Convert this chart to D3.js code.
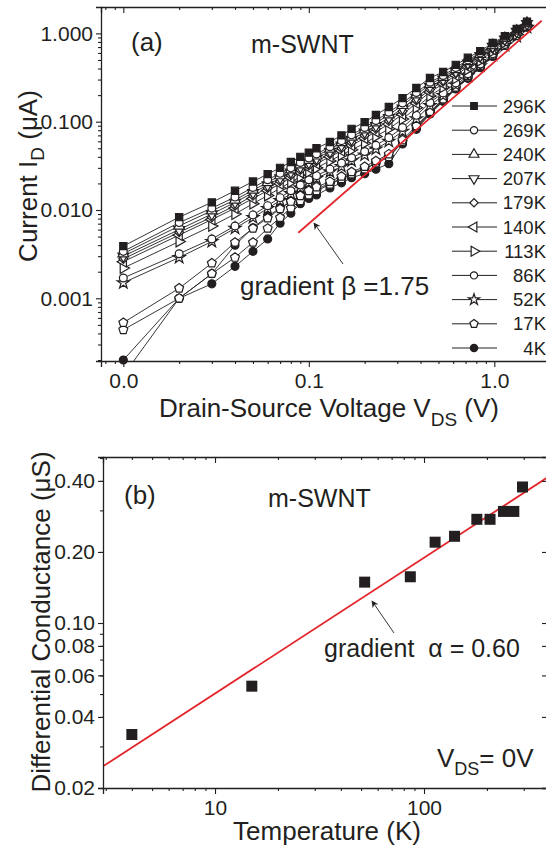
<!DOCTYPE html>
<html>
<head>
<meta charset="utf-8">
<script src="https://cdn.jsdelivr.net/npm/d3@7"></script>
<style>
body { margin: 0; background: #fff; }
svg { display: block; font-family: "Liberation Sans", Arial, sans-serif; }
</style>
</head>
<body>
<script>
const ink = "#231f20";
const red = "#e3262b";

// ---- panel (a): I-V curves ----
const voltage = [0.01, 0.02, 0.03, 0.04, 0.05, 0.06, 0.07, 0.08, 0.09, 0.10, 0.11, 0.13, 0.15, 0.17, 0.20,
                 0.23, 0.27, 0.32, 0.38, 0.45, 0.53, 0.62, 0.72, 0.84, 0.98, 1.14, 1.32, 1.50];

const I_296K = [0.0039, 0.0083, 0.0122, 0.0165, 0.021, 0.0255, 0.030, 0.035, 0.040, 0.0446, 0.050, 0.059, 0.070, 0.083, 0.099, 0.119, 0.147, 0.185, 0.241, 0.313, 0.366, 0.44, 0.53, 0.63, 0.78, 0.93, 1.12, 1.36];
const I_269K = [0.0034, 0.0072, 0.0105, 0.014, 0.018, 0.022, 0.026, 0.030, 0.0345, 0.0388, 0.043, 0.052, 0.061, 0.071, 0.086, 0.103, 0.128, 0.163, 0.214, 0.280, 0.334, 0.41, 0.50, 0.60, 0.75, 0.90, 1.09, 1.33];
const I_240K = [0.0032, 0.0066, 0.0098, 0.013, 0.0168, 0.0205, 0.0245, 0.0285, 0.0326, 0.0366, 0.041, 0.049, 0.058, 0.067, 0.081, 0.097, 0.120, 0.153, 0.202, 0.265, 0.318, 0.39, 0.48, 0.58, 0.73, 0.88, 1.07, 1.31];
const I_207K = [0.0030, 0.0060, 0.0090, 0.0122, 0.0157, 0.0192, 0.023, 0.0268, 0.0306, 0.0345, 0.0385, 0.046, 0.054, 0.063, 0.076, 0.090, 0.111, 0.142, 0.188, 0.249, 0.302, 0.37, 0.46, 0.56, 0.71, 0.86, 1.05, 1.29];
const I_179K = [0.0028, 0.0056, 0.0083, 0.0112, 0.0145, 0.0178, 0.0212, 0.0248, 0.0284, 0.032, 0.0357, 0.043, 0.050, 0.058, 0.070, 0.083, 0.102, 0.131, 0.174, 0.232, 0.285, 0.355, 0.44, 0.54, 0.68, 0.84, 1.03, 1.27];
const I_140K = [0.0026, 0.0052, 0.0078, 0.0105, 0.0135, 0.0166, 0.0198, 0.0232, 0.0266, 0.030, 0.0335, 0.040, 0.047, 0.054, 0.065, 0.077, 0.094, 0.121, 0.162, 0.217, 0.268, 0.335, 0.42, 0.52, 0.66, 0.82, 1.01, 1.25];
const I_113K = [0.0022, 0.0044, 0.0066, 0.0090, 0.0118, 0.0146, 0.0176, 0.0207, 0.0238, 0.027, 0.030, 0.036, 0.042, 0.048, 0.057, 0.068, 0.083, 0.107, 0.144, 0.196, 0.246, 0.31, 0.39, 0.49, 0.63, 0.79, 0.98, 1.22];
const I_86K  = [0.0017, 0.0032, 0.0047, 0.0066, 0.0088, 0.0112, 0.0138, 0.0165, 0.0192, 0.022, 0.0245, 0.029, 0.034, 0.039, 0.046, 0.054, 0.066, 0.086, 0.118, 0.165, 0.212, 0.275, 0.35, 0.45, 0.59, 0.75, 0.94, 1.19];
const I_52K  = [0.0015, 0.0029, 0.0044, 0.0062, 0.0082, 0.0104, 0.0128, 0.0153, 0.0178, 0.0204, 0.0228, 0.027, 0.031, 0.036, 0.042, 0.049, 0.060, 0.078, 0.108, 0.152, 0.198, 0.26, 0.33, 0.43, 0.57, 0.73, 0.92, 1.17];
const I_17K  = [0.00053, 0.0013, 0.0025, 0.0043, 0.0062, 0.0081, 0.0103, 0.0125, 0.0145, 0.0165, 0.0182, 0.021, 0.024, 0.027, 0.031, 0.036, 0.043, 0.062, 0.090, 0.13, 0.18, 0.245, 0.32, 0.42, 0.56, 0.74, 0.96, 1.20];
const I_4K   = [0.0002, 0.0010, 0.0019, 0.0040, 0.0063, 0.0085, 0.0105, 0.0125, 0.0142, 0.0158, 0.0172, 0.020, 0.0228, 0.026, 0.0295, 0.0335, 0.040, 0.058, 0.085, 0.124, 0.172, 0.238, 0.312, 0.412, 0.552, 0.732, 0.952, 1.18];
// second sweeps at 17K and 4K (no own legend entry)
const I_17K_b = [0.00044, 0.0010, 0.0019, 0.0029, 0.0043, 0.0062, 0.0082, 0.0105, 0.0127, 0.0148, 0.0165, 0.0195, 0.0225, 0.0255, 0.029, 0.034, 0.040, 0.059, 0.087, 0.126, 0.176, 0.24, 0.315, 0.415, 0.555, 0.735, 0.955, 1.19];
const I_4K_b  = [0.000134, 0.0010, 0.00146, 0.0023, 0.0034, 0.0047, 0.0071, 0.0092, 0.0118, 0.0135, 0.0148, 0.0178, 0.0203, 0.0232, 0.0258, 0.029, 0.0335, 0.056, 0.082, 0.122, 0.17, 0.235, 0.31, 0.41, 0.55, 0.73, 0.95, 1.18];

const legendLabels = ["296K", "269K", "240K", "207K", "179K", "140K", "113K", "86K", "52K", "17K", "4K"];
const legendMarkers = ["squareFilled", "circle", "triUp", "triDown", "diamond", "triLeft", "triRight", "circle", "star", "pentagon", "circleFilled"];

const fitA_V = [0.0878, 1.80];
const fitA_I = [0.00553, 1.39];

const xTicksA = [0.01, 0.1, 1];
const xTickLabelsA = ["0.0", "0.1", "1.0"];
const yTicksA = [0.001, 0.01, 0.1, 1];
const yTickLabelsA = ["0.001", "0.010", "0.100", "1.000"];

// ---- panel (b): zero-bias conductance vs T ----
const temperature = [4, 15, 52, 86, 113, 140, 179, 207, 240, 269, 296];
const conductance = [0.0337, 0.054, 0.149, 0.157, 0.220, 0.233, 0.275, 0.275, 0.297, 0.297, 0.377];
const fitB_T = [2.911, 392];
const fitB_G = [0.0247, 0.415];

const xTicksB = [10, 100];
const xTickLabelsB = ["10", "100"];
const yTicksB = [0.02, 0.04, 0.06, 0.08, 0.1, 0.2, 0.4];
const yTickLabelsB = ["0.02", "0.04", "0.06", "0.08", "0.10", "0.20", "0.40"];

// ---------------------------------------------------------------
const svg = d3.select("body").append("svg")
    .attr("width", 546)
    .attr("height", 852);

function minorTicks(domain) {
    let out = [];
    let lo = Math.floor(Math.log10(domain[0])), hi = Math.ceil(Math.log10(domain[1]));
    for (let e = lo; e <= hi; e++) {
        for (let k = 2; k <= 9; k++) {
            let v = k * Math.pow(10, e);
            if (v >= domain[0] && v <= domain[1]) out.push(v);
        }
    }
    return out;
}

const pentagon = {
    draw(ctx, size) {
        const r = Math.sqrt(size / 2.378);
        for (let k = 0; k < 5; k++) {
            const a = -Math.PI / 2 + k * 2 * Math.PI / 5;
            if (k === 0) ctx.moveTo(r * Math.cos(a), r * Math.sin(a));
            else ctx.lineTo(r * Math.cos(a), r * Math.sin(a));
        }
        ctx.closePath();
    }
};

const markerDefs = {
    squareFilled: { type: d3.symbolSquare, rot: 0, fill: ink, size: 52 },
    circle:       { type: d3.symbolCircle, rot: 0, fill: "#fff", size: 48 },
    triUp:        { type: d3.symbolTriangle, rot: 0, fill: "#fff", size: 50 },
    triDown:      { type: d3.symbolTriangle, rot: 180, fill: "#fff", size: 50 },
    triLeft:      { type: d3.symbolTriangle, rot: -90, fill: "#fff", size: 50 },
    triRight:     { type: d3.symbolTriangle, rot: 90, fill: "#fff", size: 50 },
    diamond:      { type: d3.symbolSquare, rot: 45, fill: "#fff", size: 40 },
    star:         { type: d3.symbolStar, rot: 0, fill: "#fff", size: 46 },
    pentagon:     { type: pentagon, rot: 0, fill: "#fff", size: 52 },
    circleFilled: { type: d3.symbolCircle, rot: 0, fill: ink, size: 50 }
};

function drawMarker(g, kind, x, y, scale) {
    const m = markerDefs[kind];
    g.append("path")
        .attr("d", d3.symbol().type(m.type).size(m.size * (scale || 1))())
        .attr("transform", `translate(${x},${y}) rotate(${m.rot})`)
        .attr("fill", m.fill)
        .attr("stroke", ink)
        .attr("stroke-width", 1.2);
}

function styleAxis(g) {
    g.selectAll("path.domain").attr("stroke", ink).attr("stroke-width", 1.3);
    g.selectAll(".tick line").attr("stroke", ink).attr("stroke-width", 1.1);
    g.selectAll(".tick text").attr("fill", ink).attr("font-size", 21)
        .attr("font-family", "Liberation Sans, Arial, sans-serif");
}

// generic log-log frame
function frame(x, y, xTicks, xLabels, yTicks, yLabels) {
    const [x0, x1] = x.range(), [y0, y1] = y.range();
    // bottom
    const bot = svg.append("g").attr("transform", `translate(0,${y0})`);
    bot.call(d3.axisBottom(x).tickValues(xTicks).tickFormat((d, i) => xLabels[i]).tickSize(6).tickPadding(6));
    bot.append("g").call(d3.axisBottom(x).tickValues(minorTicks(x.domain())).tickFormat("").tickSize(3))
        .select("path.domain").remove();
    styleAxis(bot);
    // top (ticks inward)
    const top = svg.append("g").attr("transform", `translate(0,${y1})`);
    top.call(d3.axisTop(x).tickValues(xTicks).tickFormat("").tickSize(-6));
    top.append("g").call(d3.axisTop(x).tickValues(minorTicks(x.domain())).tickFormat("").tickSize(-3))
        .select("path.domain").remove();
    styleAxis(top);
    // left
    const left = svg.append("g").attr("transform", `translate(${x0},0)`);
    left.call(d3.axisLeft(y).tickValues(yTicks).tickFormat((d, i) => yLabels[i]).tickSize(5).tickPadding(3));
    left.append("g").call(d3.axisLeft(y).tickValues(minorTicks(y.domain())).tickFormat("").tickSize(3))
        .select("path.domain").remove();
    styleAxis(left);
    // right (ticks inward)
    const right = svg.append("g").attr("transform", `translate(${x1},0)`);
    right.call(d3.axisRight(y).tickValues(yTicks).tickFormat("").tickSize(-6));
    styleAxis(right);
}

// =================== panel (a) ===================
const xA = d3.scaleLog().domain([0.00758, 2.26]).range([101, 560]);
const yA = d3.scaleLog().domain([0.000195, 1.99]).range([361, 7]);

svg.append("clipPath").attr("id", "clipA")
    .append("rect").attr("x", 101).attr("y", 7).attr("width", 459).attr("height", 354);

const seriesA = [
    { I: I_296K, marker: "squareFilled" },
    { I: I_269K, marker: "circle" },
    { I: I_240K, marker: "triUp" },
    { I: I_207K, marker: "triDown" },
    { I: I_179K, marker: "diamond" },
    { I: I_140K, marker: "triLeft" },
    { I: I_113K, marker: "triRight" },
    { I: I_86K,  marker: "circle" },
    { I: I_52K,  marker: "star" },
    { I: I_17K,  marker: "pentagon" },
    { I: I_17K_b, marker: "pentagon" },
    { I: I_4K,   marker: "circleFilled" },
    { I: I_4K_b, marker: "circleFilled" }
];

const lineA = d3.line()
    .x((d, i) => xA(voltage[i]))
    .y(d => yA(d));

const gLines = svg.append("g").attr("clip-path", "url(#clipA)");
seriesA.forEach(s => {
    gLines.append("path")
        .attr("d", lineA(s.I))
        .attr("fill", "none")
        .attr("stroke", ink)
        .attr("stroke-width", 0.9);
});

const gMarks = svg.append("g");
seriesA.slice().reverse().forEach(s => {
    s.I.forEach((v, i) => {
        if (v < yA.domain()[0]) return;
        drawMarker(gMarks, s.marker, xA(voltage[i]), yA(v));
    });
});

// fit line beta = 1.75
svg.append("line")
    .attr("x1", xA(fitA_V[0])).attr("y1", yA(fitA_I[0]))
    .attr("x2", xA(fitA_V[1])).attr("y2", yA(fitA_I[1]))
    .attr("stroke", red).attr("stroke-width", 1.8);

frame(xA, yA, xTicksA, xTickLabelsA, yTicksA, yTickLabelsA);

// legend
const legend = svg.append("g");
legendLabels.forEach((lab, i) => {
    const ly = 106 + i * 24.2;
    legend.append("line")
        .attr("x1", 452).attr("x2", 497).attr("y1", ly).attr("y2", ly)
        .attr("stroke", ink).attr("stroke-width", 1);
    drawMarker(legend, legendMarkers[i], 474, ly, 0.85);
    legend.append("text")
        .attr("x", 546).attr("y", ly + 6.5)
        .attr("text-anchor", "end")
        .attr("font-size", 18.5)
        .attr("fill", ink)
        .text(lab);
});

// annotations (a)
svg.append("text").attr("x", 131).attr("y", 51).attr("font-size", 26).attr("fill", ink).text("(a)");
svg.append("text").attr("x", 251).attr("y", 53).attr("font-size", 25).attr("fill", ink).text("m-SWNT");
svg.append("text").attr("x", 240).attr("y", 295).attr("font-size", 26).attr("fill", ink).text("gradient \u03b2 =1.75");

const defs = svg.append("defs");
defs.append("marker").attr("id", "arrowHead")
    .attr("viewBox", "0 0 10 10").attr("refX", 9).attr("refY", 5)
    .attr("markerWidth", 9).attr("markerHeight", 7).attr("markerUnits", "userSpaceOnUse")
    .attr("orient", "auto")
    .append("path").attr("d", "M0,0 L10,5 L0,10 L3,5 Z").attr("fill", ink);

svg.append("line")
    .attr("x1", 343).attr("y1", 264).attr("x2", 314).attr("y2", 223)
    .attr("stroke", ink).attr("stroke-width", 0.9)
    .attr("marker-end", "url(#arrowHead)");

// axis titles (a)
svg.append("text")
    .attr("transform", "translate(37,176) rotate(-90)")
    .attr("text-anchor", "middle").attr("font-size", 26).attr("fill", ink)
    .call(t => {
        t.append("tspan").text("Current I");
        t.append("tspan").attr("dy", 7).attr("font-size", 19).text("D");
        t.append("tspan").attr("dy", -7).text(" (\u03bcA)");
    });

svg.append("text")
    .attr("x", 329).attr("y", 417)
    .attr("text-anchor", "middle").attr("font-size", 26).attr("fill", ink)
    .call(t => {
        t.append("tspan").text("Drain-Source Voltage V");
        t.append("tspan").attr("dy", 9).attr("font-size", 19).text("DS");
        t.append("tspan").attr("dy", -9).text(" (V)");
    });

// =================== panel (b) ===================
const xB = d3.scaleLog().domain([2.911, 392]).range([103, 548]);
const yB = d3.scaleLog().domain([0.02, 0.505]).range([788, 457]);

svg.append("clipPath").attr("id", "clipB")
    .append("rect").attr("x", 103).attr("y", 457).attr("width", 445).attr("height", 331);

svg.append("line")
    .attr("clip-path", "url(#clipB)")
    .attr("x1", xB(fitB_T[0])).attr("y1", yB(fitB_G[0]))
    .attr("x2", xB(fitB_T[1])).attr("y2", yB(fitB_G[1]))
    .attr("stroke", red).attr("stroke-width", 1.8);

svg.append("g").selectAll("rect")
    .data(temperature)
    .join("rect")
    .attr("x", (d, i) => xB(d) - 5.5)
    .attr("y", (d, i) => yB(conductance[i]) - 5.5)
    .attr("width", 11).attr("height", 11)
    .attr("fill", ink);

frame(xB, yB, xTicksB, xTickLabelsB, yTicksB, yTickLabelsB);

svg.append("text").attr("x", 124).attr("y", 504).attr("font-size", 26).attr("fill", ink).text("(b)");
svg.append("text").attr("x", 268).attr("y", 507).attr("font-size", 25).attr("fill", ink).text("m-SWNT");
svg.append("text").attr("x", 324).attr("y", 657).attr("font-size", 25).attr("fill", ink)
    .attr("xml:space", "preserve").text("gradient  \u03b1 = 0.60");

svg.append("line")
    .attr("x1", 394).attr("y1", 633).attr("x2", 372).attr("y2", 601)
    .attr("stroke", ink).attr("stroke-width", 0.9)
    .attr("marker-end", "url(#arrowHead)");

svg.append("text")
    .attr("x", 437).attr("y", 767).attr("font-size", 26).attr("fill", ink)
    .call(t => {
        t.append("tspan").text("V");
        t.append("tspan").attr("dy", 8).attr("font-size", 18).text("DS");
        t.append("tspan").attr("dy", -8).text("= 0V");
    });

svg.append("text")
    .attr("transform", "translate(50,622) rotate(-90)")
    .attr("text-anchor", "middle").attr("font-size", 26).attr("fill", ink)
    .text("Differential Conductance (\u03bcS)");

svg.append("text")
    .attr("x", 327).attr("y", 840)
    .attr("text-anchor", "middle").attr("font-size", 26).attr("fill", ink)
    .text("Temperature (K)");
</script>
</body>
</html>
